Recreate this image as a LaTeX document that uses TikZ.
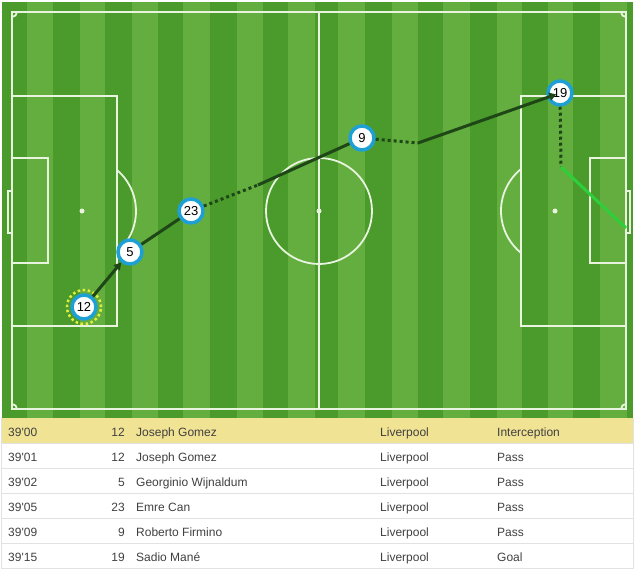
\documentclass[tikz,border=0pt]{standalone}
\usepackage{fontspec}
\setmainfont{Liberation Sans}
\usetikzlibrary{arrows.meta}

\definecolor{grassdark}{RGB}{74,154,44}
\definecolor{grasslight}{RGB}{100,174,64}
\definecolor{pitchline}{RGB}{232,244,222}
\definecolor{ringblue}{RGB}{30,160,212}
\definecolor{passgreen}{RGB}{30,70,22}
\definecolor{shotgreen}{RGB}{46,208,58}
\definecolor{ringyellow}{RGB}{226,238,60}
\definecolor{rowyellow}{RGB}{241,227,148}
\definecolor{rowline}{RGB}{226,226,226}
\definecolor{tabletext}{RGB}{64,64,64}

\begin{document}
\begin{tikzpicture}[
        x=1pt, y=-1pt,
        marking/.style={
            draw=pitchline,
            line width=1.8pt
        },
        spot/.style={
            fill=pitchline
        },
        player/.style={
            circle,
            draw=ringblue,
            line width=3.5pt,
            fill=white,
            minimum size=24pt,
            inner sep=0pt,
            font=\fontsize{13}{13}\selectfont
        },
        pass/.style={
            draw=passgreen,
            line width=3pt
        },
        carry/.style={
            draw=passgreen,
            line width=3pt,
            dash pattern=on 3pt off 3pt
        },
        shot/.style={
            draw=shotgreen,
            line width=3pt
        },
        cell/.style={
            inner sep=0pt,
            text=tabletext,
            font=\fontsize{12}{12}\selectfont
        }
    ]
    \useasboundingbox (0,0) rectangle (639,569);

    % Grass stripes
    \fill[grasslight] (2,2) rectangle (633,418);
    \foreach \a/\b in {2/27, 53/80, 105/132, 158/183, 210/237, 263/288,
                       315/338, 365/392, 418/443, 470/497, 522/548, 573/600, 627/633}
        \fill[grassdark] (\a,2) rectangle (\b,418);

    % Markings
    \draw[marking] (12,12) rectangle (626,409);
    \draw[marking] (319,12) -- (319,409);
    \draw[marking] (319,211) circle[radius=53pt];
    \fill[spot] (319,211) circle[radius=2.5pt];
    % left end
    \draw[marking] (12,96) rectangle (117,326);
    \draw[marking] (12,158) rectangle (48,263);
    \draw[marking] (8,191) rectangle (12,233);
    \fill[spot] (82,211) circle[radius=2.5pt];
    \draw[marking] (117,170) arc[start angle=49.6, end angle=-49.6, radius=54pt];
    % right end
    \draw[marking] (521,96) rectangle (626,326);
    \draw[marking] (590,158) rectangle (626,263);
    \draw[marking] (626,191) rectangle (630,233);
    \fill[spot] (555,211) circle[radius=2.5pt];
    \draw[marking] (521,169) arc[start angle=129, end angle=231, radius=54pt];
    % corners
    \draw[marking] (17,12) arc[start angle=0, end angle=-90, radius=5pt];
    \draw[marking] (621,12) arc[start angle=180, end angle=270, radius=5pt];
    \draw[marking] (12,404) arc[start angle=90, end angle=0, radius=5pt];
    \draw[marking] (621,409) arc[start angle=180, end angle=90, radius=5pt];

    % Players
    \node[player] (p12) at (84,307) {12};
    \node[player] (p5) at (130,252) {5};
    \node[player] (p23) at (191,211) {23};
    \node[player] (p9) at (362,138) {9};
    \node[player] (p19) at (560,93) {19};
    \draw[ringyellow, line width=2.5pt, dash pattern=on 2.5pt off 2.6pt] (p12.center) circle[radius=17pt];

    % Ball path
    \coordinate (c1) at (258,185);
    \coordinate (c2) at (418,143);
    \coordinate (c3) at (561,167);
    \coordinate (goal) at (626,228);
    \draw[pass, -{Triangle[length=7pt, width=8pt]}] (p12) -- (p5);
    \draw[pass] (p5) -- (p23);
    \draw[carry] (p23) -- (c1);
    \draw[pass] (c1) -- (p9);
    \draw[carry] (p9) -- (c2);
    \draw[pass, -{Triangle[length=7pt, width=8pt]}, shorten >=4pt] (c2) -- (p19.center);
    \draw[carry] (p19) -- (c3);
    \draw[shot] (c3) -- (goal);

    % Event table
    \fill[rowyellow] (1,418) rectangle (633,443);
    \foreach \i in {1,...,6}
        \draw[rowline, line width=1pt] (1,418+25*\i) -- (633,418+25*\i);
    \draw[rowline, line width=1pt] (1,418) -- (1,569);
    \draw[rowline, line width=1pt] (633,418) -- (633,569);
    \foreach \i/\tm/\no/\name/\act in {
            1/00/12/Joseph Gomez/Interception,
            2/01/12/Joseph Gomez/Pass,
            3/02/5/Georginio Wijnaldum/Pass,
            4/05/23/Emre Can/Pass,
            5/09/9/Roberto Firmino/Pass,
            6/15/19/Sadio Mané/Goal} {
        \node[cell, anchor=base west] (time\i) at (8,411+25*\i) {39\textquotesingle\tm};
        \node[cell, anchor=base east] (num\i) at (125,411+25*\i) {\no};
        \node[cell, anchor=base west] (name\i) at (136,411+25*\i) {\name};
        \node[cell, anchor=base west] (team\i) at (380,411+25*\i) {Liverpool};
        \node[cell, anchor=base west] (act\i) at (497,411+25*\i) {\act};
    }

\end{tikzpicture}
\end{document}
